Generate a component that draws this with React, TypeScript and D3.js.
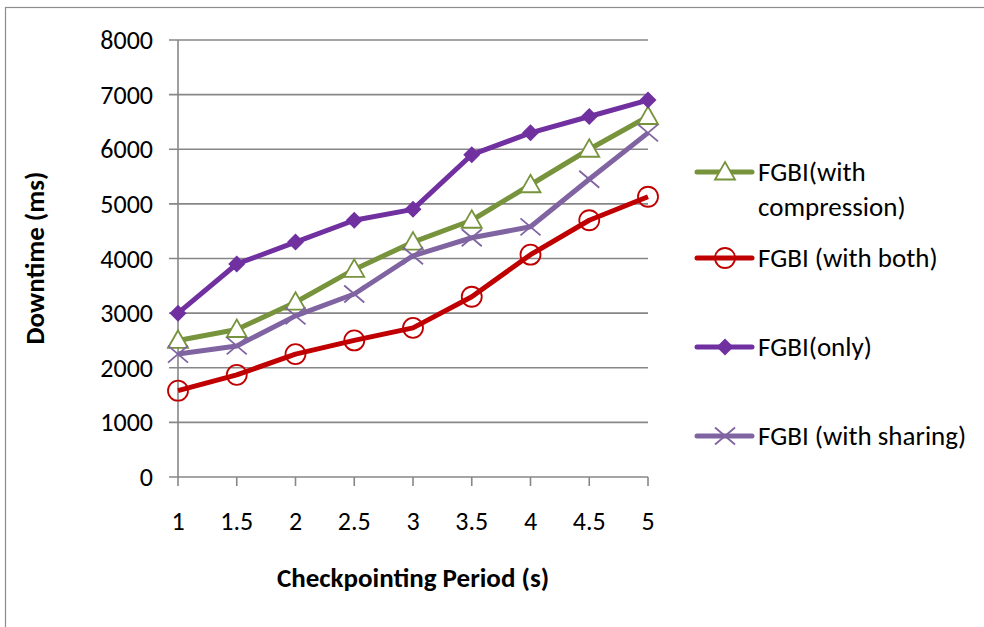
import React from "react";
import * as d3 from "d3";

const periods = [1, 1.5, 2, 2.5, 3, 3.5, 4, 4.5, 5];
const compression = [2500, 2700, 3200, 3800, 4300, 4700, 5350, 6000, 6600];
const both = [1580, 1870, 2250, 2500, 2730, 3300, 4070, 4700, 5130];
const only = [3000, 3900, 4300, 4700, 4900, 5900, 6300, 6600, 6900];
const sharing = [2250, 2400, 2950, 3350, 4050, 4380, 4580, 5450, 6300];
const yTicks = [0, 1000, 2000, 3000, 4000, 5000, 6000, 7000, 8000];

type Marker = "triangle" | "circle" | "diamond" | "cross";
const series: { name: string[]; values: number[]; color: string; marker: Marker; legendY: number }[] = [
  { name: ["FGBI(with", "compression)"], values: compression, color: "#77933C", marker: "triangle", legendY: 172 },
  { name: ["FGBI (with both)"], values: both, color: "#C00000", marker: "circle", legendY: 258 },
  { name: ["FGBI(only)"], values: only, color: "#7030A0", marker: "diamond", legendY: 347 },
  { name: ["FGBI (with sharing)"], values: sharing, color: "#8064A2", marker: "cross", legendY: 436 },
];

const FONT = "Carlito, Calibri, 'Open Sans', sans-serif";

function MarkerShape({ type, x, y, color }: { type: Marker; x: number; y: number; color: string }) {
  if (type === "triangle") {
    const s = 10;
    return (
      <path
        d={`M${x},${y - s} L${x + s},${y + s * 0.75} L${x - s},${y + s * 0.75} Z`}
        fill="white"
        stroke={color}
        strokeWidth={1.8}
      />
    );
  }
  if (type === "circle") {
    return <circle cx={x} cy={y} r={10} fill="none" stroke={color} strokeWidth={1.8} />;
  }
  if (type === "diamond") {
    const s = 8.5;
    return <path d={`M${x},${y - s} L${x + s},${y} L${x},${y + s} L${x - s},${y} Z`} fill={color} />;
  }
  const s = 10;
  return (
    <path
      d={`M${x - s},${y - s * 0.85} L${x + s},${y + s * 0.85} M${x + s},${y - s * 0.85} L${x - s},${y + s * 0.85}`}
      stroke={color}
      strokeWidth={1.8}
    />
  );
}

export default function App() {
  const x = d3.scaleLinear().domain([1, 5]).range([178, 648]);
  const y = d3.scaleLinear().domain([0, 8000]).range([477, 40]);
  const line = d3
    .line<number>()
    .x((_, i) => x(periods[i]))
    .y((d) => y(d));
  const axisColor = "#878787";

  return (
    <svg
      width={984}
      height={627}
      style={{ position: "absolute", left: 0, top: 0, background: "white" }}
      fontFamily={FONT}
    >
      <rect x={5.5} y={7.5} width={990} height={640} fill="white" stroke="#8c8c8c" strokeWidth={1.2} />

      {yTicks.map((t) => (
        <g key={t}>
          <line x1={169} x2={648} y1={y(t)} y2={y(t)} stroke={axisColor} strokeWidth={1.6} />
          <text x={153} y={y(t)} dy="0.35em" textAnchor="end" fontSize={26} fill="#000">
            {t}
          </text>
        </g>
      ))}
      <line x1={x(1)} x2={x(1)} y1={y(8000)} y2={y(0)} stroke={axisColor} strokeWidth={1.6} />
      {periods.map((p) => (
        <g key={p}>
          <line x1={x(p)} x2={x(p)} y1={y(0)} y2={y(0) + 9} stroke={axisColor} strokeWidth={1.6} />
          <text x={x(p)} y={521} dy="0.35em" textAnchor="middle" fontSize={26} fill="#000">
            {p}
          </text>
        </g>
      ))}

      <text x={413} y={578} dy="0.35em" textAnchor="middle" fontSize={27} fontWeight="bold">
        Checkpointing Period (s)
      </text>
      <text
        transform={`translate(35,${258}) rotate(-90)`}
        dy="0.35em"
        textAnchor="middle"
        fontSize={27}
        fontWeight="bold"
      >
        Downtime (ms)
      </text>

      {series.map((s) => (
        <g key={s.name.join(" ")}>
          <path d={line(s.values) ?? ""} fill="none" stroke={s.color} strokeWidth={5} strokeLinejoin="round" />
          {s.values.map((v, i) => (
            <MarkerShape key={i} type={s.marker} x={x(periods[i])} y={y(v)} color={s.color} />
          ))}
        </g>
      ))}

      {series.map((s) => (
        <g key={"lg" + s.name.join(" ")}>
          <line x1={697} x2={752} y1={s.legendY} y2={s.legendY} stroke={s.color} strokeWidth={5} strokeLinecap="round" />
          <MarkerShape type={s.marker} x={725} y={s.legendY} color={s.color} />
          {s.name.map((t, k) => (
            <text key={k} x={758} y={s.legendY + k * 35} dy="0.35em" fontSize={27} fill="#000">
              {t}
            </text>
          ))}
        </g>
      ))}
    </svg>
  );
}
